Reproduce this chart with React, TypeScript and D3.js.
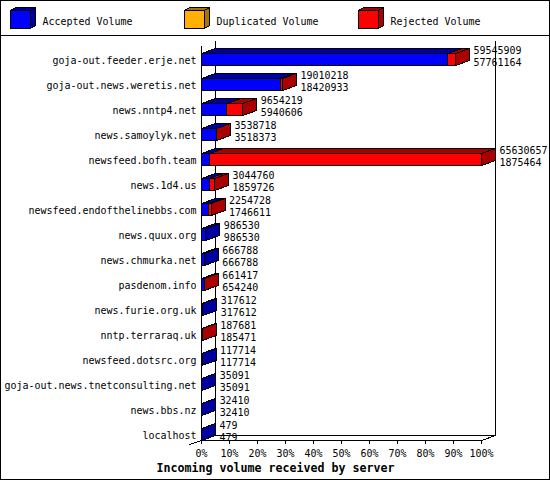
import React from "react";
import * as d3 from "d3";

const servers = [
  "goja-out.feeder.erje.net",
  "goja-out.news.weretis.net",
  "news.nntp4.net",
  "news.samoylyk.net",
  "newsfeed.bofh.team",
  "news.1d4.us",
  "newsfeed.endofthelinebbs.com",
  "news.quux.org",
  "news.chmurka.net",
  "pasdenom.info",
  "news.furie.org.uk",
  "nntp.terraraq.uk",
  "newsfeed.dotsrc.org",
  "goja-out.news.tnetconsulting.net",
  "news.bbs.nz",
  "localhost",
];
const totalVolume = [59545909, 19010218, 9654219, 3538718, 65630657, 3044760, 2254728, 986530, 666788, 661417, 317612, 187681, 117714, 35091, 32410, 479];
const acceptedVolume = [57761164, 18420933, 5940606, 3518373, 1875464, 1859726, 1746611, 986530, 666788, 654240, 317612, 185471, 117714, 35091, 32410, 479];
const duplicatedVolume = [0, 0, 0, 0, 0, 0, 0, 0, 0, 0, 0, 0, 0, 0, 0, 0];
const tickPercents = [0, 10, 20, 30, 40, 50, 60, 70, 80, 90, 100];
const legendLabels = ["Accepted Volume", "Duplicated Volume", "Rejected Volume"];
const xTitle = "Incoming volume received by server";

const FACE = ["#0000ff", "#ffb000", "#ff0000"];
const SIDE = ["#0000a0", "#a87400", "#aa0000"];
const FONT = "'DejaVu Sans Mono', 'Liberation Mono', monospace";

const DX = 14;
const DY = 5;
const X0 = 201;
const X1 = 481;
const YT = 40;
const YB = 440;

function Box({ x0, x1, top, bottom, ci }: { x0: number; x1: number; top: number; bottom: number; ci: number }) {
  const topFace = [[x0, top], [x0 + DX, top - DY], [x1 + DX, top - DY], [x1, top]];
  const side = [[x1, top], [x1 + DX, top - DY], [x1 + DX, bottom - DY], [x1, bottom]];
  const p = (pts: number[][]) => pts.map((d) => d.join(",")).join(" ");
  return (
    <g stroke="#000" strokeWidth={1}>
      <rect x={x0} y={top} width={Math.max(0, x1 - x0)} height={bottom - top} fill={FACE[ci]} />
      <polygon points={p(topFace)} fill={SIDE[ci]} />
      <polygon points={p(side)} fill={SIDE[ci]} />
    </g>
  );
}

function MonoText({ x, y, text, anchor = "start", bold = false, cw = 6, size = 11 }: any) {
  return (
    <text
      x={x}
      y={y}
      textAnchor={anchor}
      fontFamily={FONT}
      fontSize={size}
      fontWeight={bold ? "bold" : "normal"}
      textLength={cw * text.length}
      lengthAdjust="spacingAndGlyphs"
      fill="#000"
    >
      {text}
    </text>
  );
}

export default function App() {
  const maxV = d3.max(totalVolume) as number;
  const x = d3.scaleLinear().domain([0, maxV]).range([X0, X1]);
  const xp = d3.scaleLinear().domain([0, 100]).range([X0, X1]);
  const y = d3.scaleBand<string>().domain(servers).range([YT, YB]).paddingInner(0).paddingOuter(0);

  const legendX = [10, 184, 358];

  return (
    <svg
      width={550}
      height={480}
      style={{ position: "absolute", left: 0, top: 0, display: "block", background: "#fff" }}
      shapeRendering="crispEdges"
    >
      <rect x={0} y={0} width={550} height={480} fill="#fff" />
      <g transform="translate(0.5,0.5)">
        <rect x={0} y={0} width={549} height={479} fill="none" stroke="#000" />
        <line x1={0} x2={549} y1={35} y2={35} stroke="#000" />

        {legendLabels.map((l, i) => (
          <g key={l}>
            <g stroke="#000">
              <rect x={legendX[i]} y={10} width={20} height={18} fill={FACE[i]} />
              <polygon
                points={`${legendX[i]},10 ${legendX[i] + 5},7 ${legendX[i] + 25},7 ${legendX[i] + 20},10`}
                fill={SIDE[i]}
              />
              <polygon
                points={`${legendX[i] + 20},10 ${legendX[i] + 25},7 ${legendX[i] + 25},25 ${legendX[i] + 20},28`}
                fill={SIDE[i]}
              />
            </g>
            <MonoText x={legendX[i] + 32} y={24} text={l} />
          </g>
        ))}

        {/* back wall */}
        <g stroke="#000" fill="none">
          <line x1={X0 + DX} x2={X0 + DX} y1={YT} y2={YB - DY} />
          <line x1={X1 + DX} x2={X1 + DX} y1={YT} y2={YB - DY} />
          <line x1={X0 + DX} x2={X1 + DX} y1={YB - DY} y2={YB - DY} />
        </g>

        {servers.map((s, i) => {
          const top = (y(s) as number) + 13;
          const bottom = (y(s) as number) + y.bandwidth();
          const acc = acceptedVolume[i];
          const dup = duplicatedVolume[i];
          const rej = totalVolume[i] - acc - dup;
          const segs = [acc, dup, rej];
          let cum = 0;
          const boxes: any[] = [];
          segs.forEach((v, ci) => {
            if (v <= 0) return;
            boxes.push(<Box key={ci} x0={x(cum)} x1={x(cum + v)} top={top} bottom={bottom} ci={ci} />);
            cum += v;
          });
          const tx = x(totalVolume[i]) + DX + 4;
          return (
            <g key={s}>
              {boxes}
              <MonoText x={196} y={top + 10} text={s} anchor="end" />
              <MonoText x={tx} y={top} text={String(totalVolume[i])} />
              <MonoText x={tx} y={top + 12} text={String(acc)} />
            </g>
          );
        })}

        {/* front axes */}
        <g stroke="#000" fill="none">
          <line x1={X0} x2={X0} y1={YT + DY} y2={YB} />
          <line x1={X0} x2={X1} y1={YB} y2={YB} />
          <line x1={X1} x2={X1 + DX} y1={YB} y2={YB - DY} />
          <line x1={X0} x2={X0 - 12} y1={YB} y2={YB + 4} />
          {tickPercents.map((t) => (
            <line key={t} x1={xp(t)} x2={xp(t)} y1={YB} y2={YB + 3} />
          ))}
        </g>
        {tickPercents.map((t) => (
          <MonoText key={t} x={xp(t)} y={456} text={`${t}%`} anchor="middle" />
        ))}
        <MonoText x={275} y={471} text={xTitle} anchor="middle" bold cw={7} size={12} />
      </g>
    </svg>
  );
}
